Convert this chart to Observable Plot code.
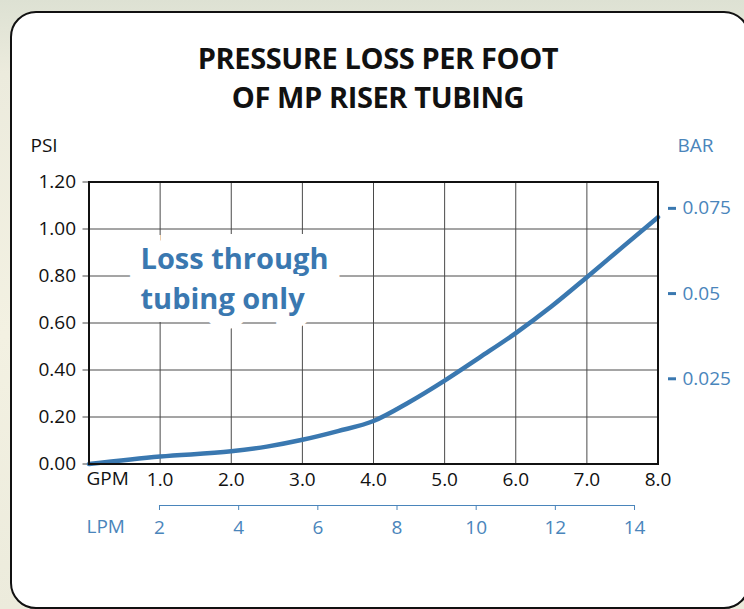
<!DOCTYPE html>
<html><head><meta charset="utf-8">
<script src="https://cdn.jsdelivr.net/npm/d3@7"></script>
<script src="https://cdn.jsdelivr.net/npm/@observablehq/plot@0.6"></script>
<style>
html,body{margin:0;padding:0;width:744px;height:609px;overflow:hidden;}
body{position:relative;background:linear-gradient(180deg,#dde1d3 0%,#ecebdd 12%,#f3f1e2 55%,#ecebdc 100%);font-family:"Open Sans",sans-serif;}
#panel{position:absolute;left:10px;top:11px;width:740px;height:598px;box-sizing:border-box;border:2.5px solid #111;border-radius:26px;background:#fff;}
#title{position:absolute;left:0;width:756px;top:38px;text-align:center;font-weight:700;font-size:29px;line-height:39px;color:#111;letter-spacing:-0.4px;}
#chart{position:absolute;left:0;top:130px;}
</style></head><body>
<div id="panel"></div>
<div id="title">PRESSURE LOSS PER FOOT<br>OF MP RISER TUBING</div>
<div id="chart"></div>
<script>
// Flow (GPM) vs pressure loss (PSI per foot)
const gpm = [0, 1, 2, 2.5, 3, 3.5, 4, 4.5, 5, 5.5, 6, 6.5, 7, 7.5, 8];
const psi = [0, 0.032, 0.054, 0.074, 0.103, 0.14, 0.183, 0.263, 0.355, 0.455, 0.557, 0.67, 0.795, 0.923, 1.05];
const psiTicks = [0, 0.2, 0.4, 0.6, 0.8, 1.0, 1.2];
const gpmTicks = [1, 2, 3, 4, 5, 6, 7, 8];
const lpmTicks = [2, 4, 6, 8, 10, 12, 14];
const barTicks = [0.025, 0.05, 0.075];
const PSI_PER_BAR = 14.5038;
// The printed LPM scale: 2 LPM sits under GPM 0.99, 14 LPM under GPM 7.67
const LPM_A = 0.991, LPM_B = 7.67;
const lpmToGpm = l => LPM_A + (l - 2) * (LPM_B - LPM_A) / 12;
const gpmToLpm = g => Math.round(2 + (g - LPM_A) * 12 / (LPM_B - LPM_A));
const titleText = "Loss through\ntubing only";

const blue = "#3a78b0", axisBlue = "#4a85bb";
const rows = gpm.map((g, i) => ({g, p: psi[i]}));

const plot = Plot.plot({
  width: 744, height: 420,
  marginLeft: 88.5, marginRight: 86.5, marginTop: 51.5, marginBottom: 86.5,
  style: {fontFamily: "'Open Sans', sans-serif", fontSize: "19px", background: "transparent", color: "#111"},
  x: {domain: [0, 8]},
  y: {domain: [0, 1.2]},
  marks: [
    Plot.gridY(psiTicks.slice(1, -1), {stroke: "#4a4a4a", strokeOpacity: 1}),
    Plot.gridX(gpmTicks.slice(0, -1), {stroke: "#4a4a4a", strokeOpacity: 1}),
    Plot.text([titleText], {frameAnchor: "top-left", textAnchor: "start", lineAnchor: "middle", dx: 51.5, dy: 94.5,
      fontSize: 29, fontWeight: 700, lineHeight: 1.38, fill: blue, stroke: "white", strokeWidth: 26, strokeLinejoin: "miter"}),
    Plot.axisY(psiTicks, {anchor: "left", tickSize: 6, tickPadding: 7, tickFormat: d => d.toFixed(2), stroke: "#4a4a4a", fill: "#111", label: null}),
    Plot.axisY(barTicks.map(b => b * PSI_PER_BAR), {anchor: "right", tickSize: 8, tickPadding: 7, dx: 9.5, strokeWidth: 3,
      tickFormat: d => String(+(d / PSI_PER_BAR).toFixed(3)), stroke: blue, fill: axisBlue, label: null}),
    Plot.axisX(gpmTicks, {anchor: "bottom", tickSize: 0, tickPadding: 8, tickFormat: d => d.toFixed(1), fill: "#111", label: null}),
    Plot.ruleY([0], {x1: [lpmToGpm(lpmTicks[0])], x2: [lpmToGpm(lpmTicks[lpmTicks.length - 1])], dy: 41.5, stroke: axisBlue}),
    Plot.axisX(lpmTicks.map(lpmToGpm), {anchor: "bottom", dy: 41.5, tickSize: 5, tickPadding: 10,
      tickFormat: d => String(gpmToLpm(d)), stroke: axisBlue, fill: axisBlue, label: null}),
    Plot.text(["GPM"], {frameAnchor: "bottom-left", textAnchor: "start", lineAnchor: "middle", dx: -2.5, dy: 14.5, fill: "#111"}),
    Plot.text(["LPM"], {frameAnchor: "bottom-left", textAnchor: "start", lineAnchor: "middle", dx: -2.5, dy: 62.5, fill: axisBlue}),
    Plot.text(["PSI"], {frameAnchor: "top-left", textAnchor: "start", lineAnchor: "middle", dx: -58.5, dy: -36.5, fill: "#111"}),
    Plot.text(["BAR"], {frameAnchor: "top-right", textAnchor: "start", lineAnchor: "middle", dx: 19.5, dy: -36.5, fill: axisBlue}),
    Plot.line(rows, {x: "g", y: "p", curve: "monotone-x", stroke: blue, strokeWidth: 4.5}),
    Plot.frame({stroke: "#111", strokeWidth: 2})
  ]
});
document.getElementById("chart").appendChild(plot);
</script>
</body></html>
